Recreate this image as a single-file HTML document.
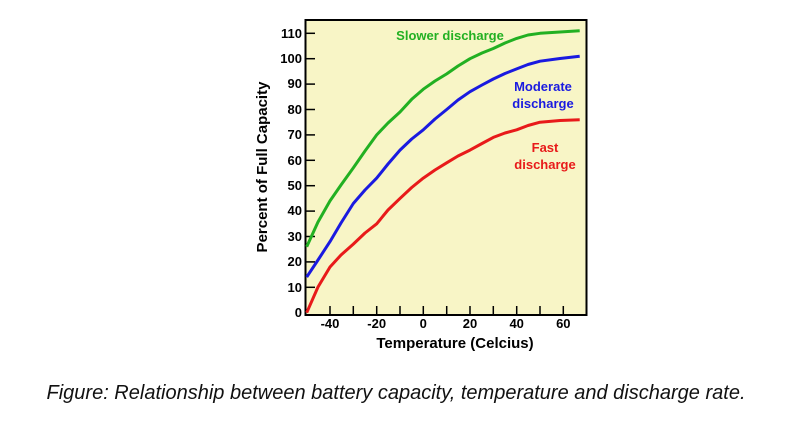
<!DOCTYPE html>
<html><head><meta charset="utf-8"><style>
html,body{margin:0;padding:0;background:#fff;width:802px;height:430px;overflow:hidden}
</style></head><body>
<svg width="802" height="430" xmlns="http://www.w3.org/2000/svg" font-family="Liberation Sans, Arial, sans-serif">
<rect x="305.5" y="20" width="281" height="295" fill="#f8f5c6" stroke="#000" stroke-width="2"/>
<g stroke="#000" stroke-width="1.5">
<line x1="330" y1="315" x2="330" y2="306"/><line x1="353.3" y1="315" x2="353.3" y2="306"/>
<line x1="376.7" y1="315" x2="376.7" y2="306"/><line x1="400" y1="315" x2="400" y2="306"/>
<line x1="423.3" y1="315" x2="423.3" y2="306"/><line x1="446.7" y1="315" x2="446.7" y2="306"/>
<line x1="470" y1="315" x2="470" y2="306"/><line x1="493.3" y1="315" x2="493.3" y2="306"/>
<line x1="516.7" y1="315" x2="516.7" y2="306"/><line x1="540" y1="315" x2="540" y2="306"/>
<line x1="563.3" y1="315" x2="563.3" y2="306"/>
<line x1="305" y1="287.3" x2="315" y2="287.3"/><line x1="305" y1="261.9" x2="315" y2="261.9"/>
<line x1="305" y1="236.5" x2="315" y2="236.5"/><line x1="305" y1="211.1" x2="315" y2="211.1"/>
<line x1="305" y1="185.7" x2="315" y2="185.7"/><line x1="305" y1="160.3" x2="315" y2="160.3"/>
<line x1="305" y1="134.9" x2="315" y2="134.9"/><line x1="305" y1="109.5" x2="315" y2="109.5"/>
<line x1="305" y1="84.1" x2="315" y2="84.1"/><line x1="305" y1="58.7" x2="315" y2="58.7"/>
<line x1="305" y1="33.3" x2="315" y2="33.3"/>
</g>
<g fill="none" stroke-width="3" stroke-linejoin="round">
<polyline stroke="#22b022" points="306.7,246.7 318,222 330,200.9 341,185 353.3,167.9 365,151 376.7,134.9 388,123 400,112 411.7,99.3 423.3,89.2 435,81 446.7,73.9 458,66 470,58.7 482,53 493.3,48.5 505,43 516.7,38.4 528,35 540,33.3 560,32 579.7,30.8"/>
<polyline stroke="#1a1ae0" points="306.7,277.1 318,260 330,241.6 341,223 353.3,203.5 365,190 376.7,178.1 388,164 400,150.1 411.7,139 423.3,129.8 435,119 446.7,109.5 458,100 470,91.7 482,85 493.3,79 505,73.5 516.7,68.9 528,64.5 540,61.2 560,58.5 579.7,56.2"/>
<polyline stroke="#e81a1a" points="306.7,312.7 318,287 330,267 341,255 353.3,244.1 365,233 376.7,223.8 388,210 400,198.4 411.7,187.5 423.3,178.1 435,170 446.7,162.8 458,156 470,150.1 482,143.5 493.3,137.4 505,133 516.7,129.8 528,125.5 540,122.2 560,120.5 579.7,119.7"/>
</g>
<g font-size="13" font-weight="bold" fill="#000" text-anchor="end">
<text x="302" y="317">0</text><text x="302" y="292">10</text><text x="302" y="266">20</text>
<text x="302" y="241">30</text><text x="302" y="215">40</text><text x="302" y="190">50</text>
<text x="302" y="165">60</text><text x="302" y="139">70</text><text x="302" y="114">80</text>
<text x="302" y="88">90</text><text x="302" y="63">100</text><text x="302" y="38">110</text>
</g>
<g font-size="13" font-weight="bold" fill="#000" text-anchor="middle">
<text x="330" y="328">-40</text><text x="376.7" y="328">-20</text><text x="423.3" y="328">0</text>
<text x="470" y="328">20</text><text x="516.7" y="328">40</text><text x="563.3" y="328">60</text>
</g>
<text x="455" y="348" font-size="15" font-weight="bold" text-anchor="middle">Temperature (Celcius)</text>
<text transform="translate(267,167) rotate(-90)" font-size="15" font-weight="bold" text-anchor="middle">Percent of Full Capacity</text>
<g font-size="13" font-weight="bold" text-anchor="middle">
<text x="450" y="40" fill="#22b022">Slower discharge</text>
<text x="543" y="91" fill="#1a1ae0">Moderate</text>
<text x="543" y="108" fill="#1a1ae0">discharge</text>
<text x="545" y="152" fill="#e81a1a">Fast</text>
<text x="545" y="169" fill="#e81a1a">discharge</text>
</g>
<text x="396" y="399" font-size="20" font-style="italic" text-anchor="middle" fill="#111" textLength="699" lengthAdjust="spacingAndGlyphs">Figure: Relationship between battery capacity, temperature and discharge rate.</text>
</svg>
</body></html>
